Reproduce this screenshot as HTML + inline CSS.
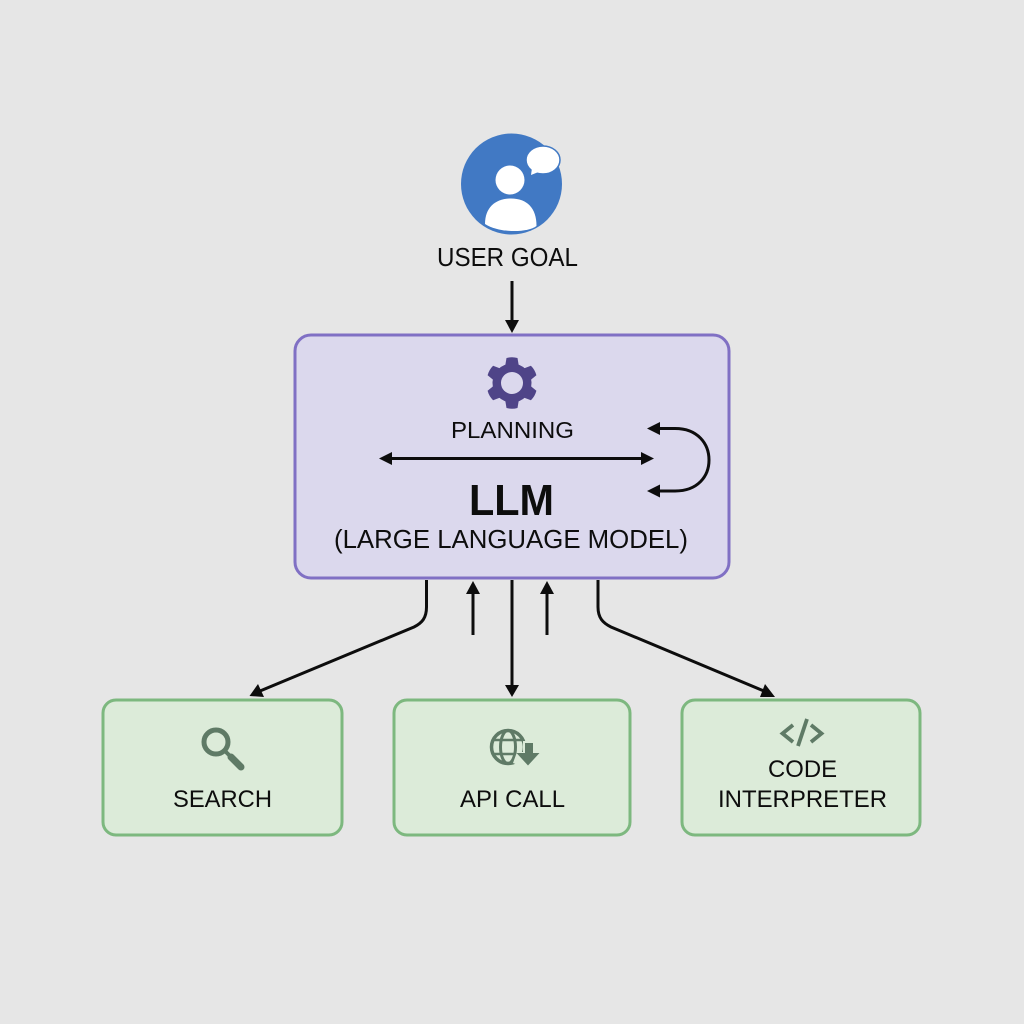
<!DOCTYPE html>
<html><head><meta charset="utf-8"><style>
html,body{margin:0;padding:0;background:#e6e6e6;width:1024px;height:1024px;overflow:hidden}
svg{display:block}
text{font-family:"Liberation Sans",sans-serif;fill:#0d0d0d}
</style></head><body>
<svg width="1024" height="1024" viewBox="0 0 1024 1024" xmlns="http://www.w3.org/2000/svg">
<rect width="1024" height="1024" fill="#e6e6e6"/>

<!-- user icon -->
<circle cx="511.5" cy="184" r="50.5" fill="#4179c4"/>
<circle cx="510" cy="180" r="14.5" fill="#fff"/>
<path d="M485 224 C485 207 496 198.500 511 198.500 C527 198.500 536.500 208 536.500 226 C528 233 498 233 485 224Z" fill="#fff"/>
<ellipse cx="543" cy="160" rx="17" ry="14" fill="#fff" stroke="#4179c4" stroke-width="1.500"/>
<path d="M532 168 L531 175 L541 171Z" fill="#fff"/>
<text x="437" y="266" font-size="26" textLength="141" lengthAdjust="spacingAndGlyphs">USER GOAL</text>

<!-- main box -->
<rect x="295" y="335" width="434" height="243" rx="16" fill="#dbd8ed" stroke="#8070c4" stroke-width="3"/>

<!-- gear -->
<g transform="translate(512 383)" fill="#4f4488">
<circle r="19.500"/>
<path d="M-7 -16 L-5.500 -25 Q0 -26.500 5.500 -25 L7 -16Z"/>
<path d="M-7 -16 L-5.500 -25 Q0 -26.500 5.500 -25 L7 -16Z" transform="rotate(60)"/>
<path d="M-7 -16 L-5.500 -25 Q0 -26.500 5.500 -25 L7 -16Z" transform="rotate(120)"/>
<path d="M-7 -16 L-5.500 -25 Q0 -26.500 5.500 -25 L7 -16Z" transform="rotate(180)"/>
<path d="M-7 -16 L-5.500 -25 Q0 -26.500 5.500 -25 L7 -16Z" transform="rotate(240)"/>
<path d="M-7 -16 L-5.500 -25 Q0 -26.500 5.500 -25 L7 -16Z" transform="rotate(300)"/>
<circle r="11" fill="#dbd8ed"/>
</g>
<text x="451" y="438" font-size="23" textLength="123" lengthAdjust="spacingAndGlyphs">PLANNING</text>
<text x="469" y="515" font-size="44" font-weight="700" textLength="85" lengthAdjust="spacingAndGlyphs">LLM</text>
<text x="334" y="548" font-size="26" textLength="354" lengthAdjust="spacingAndGlyphs">(LARGE LANGUAGE MODEL)</text>

<!-- green boxes -->
<g fill="#dcebd9" stroke="#7db87f" stroke-width="3">
<rect x="103" y="700" width="239" height="135" rx="13"/>
<rect x="394" y="700" width="236" height="135" rx="13"/>
<rect x="682" y="700" width="238" height="135" rx="13"/>
</g>

<!-- search icon -->
<circle cx="216" cy="742" r="12" fill="none" stroke="#5f7a66" stroke-width="5"/>
<path d="M225 751 L241 767" stroke="#5f7a66" stroke-width="4"/>
<path d="M231 757 L241 767" stroke="#5f7a66" stroke-width="7" stroke-linecap="round"/>
<text x="173" y="807" font-size="24" textLength="99" lengthAdjust="spacingAndGlyphs">SEARCH</text>

<!-- globe icon -->
<g fill="none" stroke="#5f7a66" stroke-width="2.500">
<circle cx="508" cy="747" r="16.500" stroke-width="3.500"/>
<ellipse cx="508" cy="747" rx="7.500" ry="16.500" stroke-width="3"/>
<path d="M493 740 H523 M493 754 H523"/>
</g>
<path d="M513 763 L517 752 H523 V741 H535 V752 H543 L528 769Z" fill="#dcebd9"/>
<path d="M525 743 H533 V753 H539.500 L528 765.500 L516.500 753 H525Z" fill="#5f7a66"/>
<text x="460" y="807" font-size="24" textLength="105" lengthAdjust="spacingAndGlyphs">API CALL</text>

<!-- code icon -->
<g fill="none" stroke="#5f7a66" stroke-width="3.800">
<path d="M793 725 L782.500 733.500 L793 742"/>
<path d="M811 725 L821.500 733.500 L811 742"/>
<path d="M807 719 L798 746"/>
</g>
<text x="768" y="777" font-size="24" textLength="69" lengthAdjust="spacingAndGlyphs">CODE</text>
<text x="718" y="807" font-size="24" textLength="169" lengthAdjust="spacingAndGlyphs">INTERPRETER</text>

<!-- connectors -->
<g fill="none" stroke="#0d0d0d" stroke-width="3">
<path d="M512 281 V322"/>
<path d="M388 458.500 H642"/>
<path d="M658 428.500 H675 C698 428.500 709 444 709 460 C709 476 698 491 675 491 H658"/>
<path d="M426.500 580 V607 C426.500 618 422 623 414 627 L260 691"/>
<path d="M598 580 V607 C598 618 603 623 611 627 L764 691"/>
<path d="M473 635 V592"/>
<path d="M547 635 V592"/>
<path d="M512 580 V686"/>
</g>
<g fill="#0d0d0d">
<path d="M512 333 L505 320 H519Z"/>
<path d="M379 458.500 L392 452 V465Z"/>
<path d="M654 458.500 L641 452 V465Z"/>
<path d="M647 428.500 L660 422 V435Z"/>
<path d="M647 491 L660 484.500 V497.500Z"/>
<path d="M473 581 L466 594 H480Z"/>
<path d="M547 581 L540 594 H554Z"/>
<path d="M512 697 L505 685 H519Z"/>
<path d="M249.500 696 L258 684 L264 697Z"/>
<path d="M775 697 L765 684 L760 697Z"/>
</g>
</svg>
</body></html>
